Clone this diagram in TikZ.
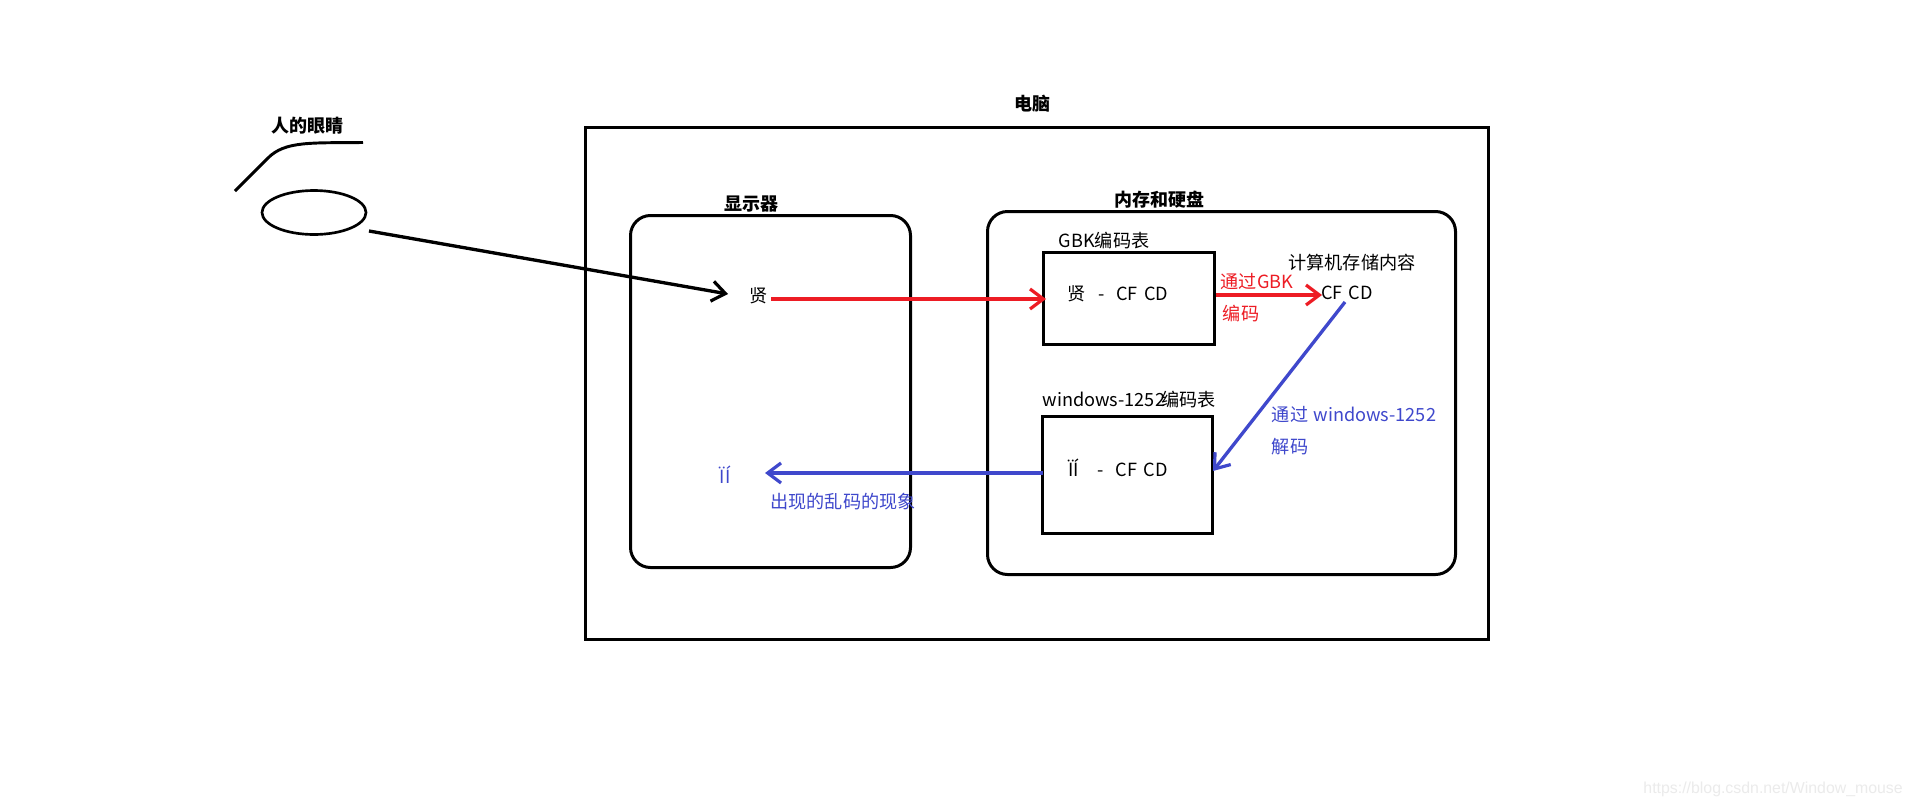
\documentclass[tikz,border=0pt]{standalone}
\usepackage{fontspec}
\usetikzlibrary{arrows.meta}
\setmainfont{Noto Sans CJK SC}
\newfontfamily\wmfont{Liberation Sans}
\definecolor{redline}{RGB}{237,28,36}
\definecolor{blueline}{RGB}{63,72,204}
\newcommand{\cfcd}{CF\kern1.5pt\ CD}
\tikzset{
  x=0.75pt,y=-0.75pt,
  boxline/.style={draw=black,line width=2.25pt},
  txt/.style={inner sep=0pt,font=\fontsize{13.6pt}{15pt}\selectfont},
  title/.style={inner sep=0pt,font=\fontsize{13.5pt}{15pt}\selectfont\bfseries},
  redtxt/.style={txt,text=redline},
  bluetxt/.style={txt,text=blueline},
  tip/.style={-{Straight Barb[length=10pt,width=15pt,line width=2.4pt]}},
  conn/.style={line width=2.5pt,tip},
}
\begin{document}
\begin{tikzpicture}
\useasboundingbox (0,0) rectangle (1912,807);
\fill[white] (0,0) rectangle (1912,807);
% boxes
\draw[boxline] (585.5,127.5) rectangle (1488.5,639.5);
\draw[boxline,rounded corners=15pt] (630.5,215.5) rectangle (910.5,567.5);
\draw[boxline,rounded corners=15pt] (987.5,211.5) rectangle (1455.5,574.5);
\draw[boxline] (1043.5,252.5) rectangle (1214.5,344.5);
\draw[boxline] (1042.5,416.5) rectangle (1212.5,533.5);
% anchors
\coordinate (eyeout) at (369,231);
\coordinate (scrA) at (728,294);
\coordinate (scrB) at (771,299);
\coordinate (gbkin) at (1046,299);
\coordinate (gbkout) at (1216,295);
\coordinate (cfin) at (1322,295);
\coordinate (cfout) at (1345,302);
\coordinate (winin) at (1213,471);
\coordinate (winout) at (1043,473);
\coordinate (scrC) at (765,473);
% eye
\draw[line width=2pt] (314,212.5) ellipse [x radius=52,y radius=22];
\draw[line width=2.2pt] (235,191) -- (268,158) .. controls (285,141) and (310,143) .. (363,142.5);
% connectors
\draw[conn,black] (eyeout) -- (scrA);
\draw[conn,redline] (scrB) -- (gbkin);
\draw[conn,redline] (gbkout) -- (cfin);
\draw[conn,blueline] (cfout) -- (winin);
\draw[conn,blueline] (winout) -- (scrC);
% titles
\node[title] (tpc) at (1032,104) {电脑};
\node[title] (teye) at (307,126) {人的眼睛};
\node[title] (tscr) at (751,204) {显示器};
\node[title] (tmem) at (1159,200) {内存和硬盘};
% texts
\node[txt] (tgbk) at (1104,241) {GBK编码表};
\node[txt] (tstore) at (1352,263) {计算机存储内容};
\node[txt] (tcf) at (1347,293) {\cfcd};
\node[txt] (txian) at (759,296) {贤};
\node[txt] (trow1) at (1118,294) {贤\kern 9pt-\kern 9pt\cfcd};
\node[redtxt] (tvia) at (1257,282) {通过GBK};
\node[redtxt] (tenc) at (1241,314) {编码};
\node[txt] (twin) at (1129,400) {windows-1252\kern-3pt编码表};
\node[txt] (trow2) at (1118,468) {ÏÍ\kern 14pt-\kern 9pt\cfcd};
\node[bluetxt] (tviaw) at (1354,415) {通过\kern1pt\ windows-1252};
\node[bluetxt] (tdec) at (1290,447) {解码};
\node[bluetxt] (tbad) at (725,475) {ÏÍ};
\node[bluetxt] (tmoj) at (843,502) {出现的乱码的现象};
\node[inner sep=0pt,anchor=east,text=black!8,font=\wmfont\fontsize{11.9pt}{14pt}\selectfont] (twm) at (1903,789) {https://blog.csdn.net/Window\_mouse};
\end{tikzpicture}
\end{document}
